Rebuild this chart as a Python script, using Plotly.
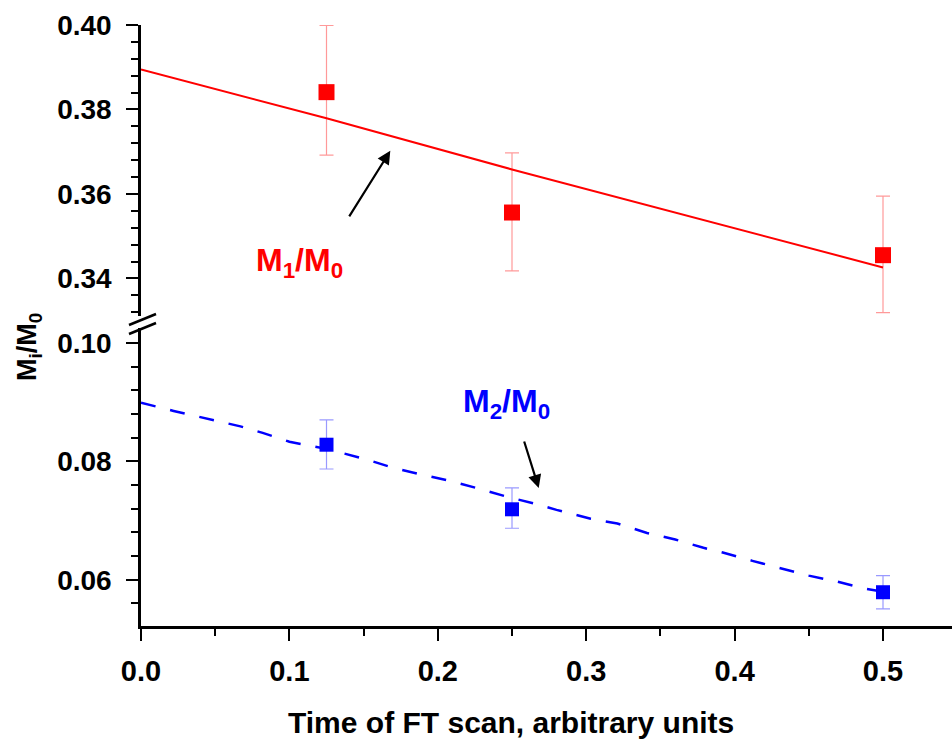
import plotly.graph_objects as go

# ---------------- data ----------------
# M1/M0 measurements (top panel)
m1_x = [0.125, 0.25, 0.5]
m1_y = [0.3841, 0.3556, 0.3455]
m1_err_plus = [0.0158, 0.0141, 0.0140]
m1_err_minus = [0.0149, 0.0138, 0.0136]

# M1/M0 model curve
m1_line_x = [0.0, 0.125, 0.25, 0.375, 0.5]
m1_line_y = [0.3895, 0.3779, 0.3658, 0.3542, 0.3426]

# M2/M0 measurements (bottom panel)
m2_x = [0.125, 0.25, 0.5]
m2_y = [0.0828, 0.0719, 0.0579]
m2_err_plus = [0.0042, 0.0036, 0.0028]
m2_err_minus = [0.0041, 0.0032, 0.0028]

# M2/M0 model curve
m2_line_x = [0.0, 0.022, 0.067, 0.082, 0.100, 0.125, 0.152, 0.170, 0.190, 0.208,
             0.226, 0.247, 0.266, 0.280, 0.303, 0.321, 0.341, 0.360, 0.379, 0.392,
             0.412, 0.431, 0.450, 0.469, 0.488, 0.5]
m2_line_y = [0.0899, 0.0885, 0.0859, 0.0848, 0.0833, 0.0821, 0.0803, 0.0789, 0.0777, 0.0767,
             0.0755, 0.0740, 0.0728, 0.0718, 0.0703, 0.0695, 0.0679, 0.0668, 0.0654, 0.0646,
             0.0632, 0.0620, 0.0607, 0.0597, 0.0585, 0.0580]

x_ticks = [0.0, 0.1, 0.2, 0.3, 0.4, 0.5]
y_top_ticks = [0.34, 0.36, 0.38, 0.40]
y_bot_ticks = [0.06, 0.08, 0.10]

RED = "#ff0000"
BLUE = "#0000ff"
FONT = "Liberation Sans, Arial, sans-serif"

W, H = 952, 745
ML, MR, MT, MB = 141, 0, 25, 119
PW, PH = W - ML - MR, H - MT - MB

def px2paper_x(px):
    return (px - ML) / PW

def px2paper_y(py):
    return (H - MB - py) / PH

fig = go.Figure()

fig.add_trace(go.Scatter(
    x=m1_line_x, y=m1_line_y, mode="lines", xaxis="x", yaxis="y",
    line=dict(color=RED, width=2), showlegend=False, hoverinfo="skip"))
fig.add_trace(go.Scatter(
    x=m1_x, y=m1_y, mode="markers", xaxis="x", yaxis="y",
    marker=dict(symbol="square", size=16, color=RED),
    error_y=dict(type="data", symmetric=False, array=m1_err_plus, arrayminus=m1_err_minus,
                 color="rgba(255,0,0,0.4)", thickness=1.2, width=7),
    showlegend=False))

fig.add_trace(go.Scatter(
    x=m2_line_x, y=m2_line_y, mode="lines", xaxis="x", yaxis="y2",
    line=dict(color=BLUE, width=2.5, dash="15px,15px"), showlegend=False, hoverinfo="skip"))
fig.add_trace(go.Scatter(
    x=m2_x, y=m2_y, mode="markers", xaxis="x", yaxis="y2",
    marker=dict(symbol="square", size=14, color=BLUE),
    error_y=dict(type="data", symmetric=False, array=m2_err_plus, arrayminus=m2_err_minus,
                 color="rgba(0,0,255,0.4)", thickness=1.2, width=7),
    showlegend=False))

axis_common = dict(
    showline=True, linecolor="black", linewidth=2.5, mirror=False,
    ticks="outside", ticklen=12, tickwidth=2, tickcolor="black",
    showgrid=False, zeroline=False,
)

x_top = 0.5 + (W - ML - MR - (883 - ML)) / ((883 - ML) / 0.5)

fig.update_layout(
    width=W, height=H,
    margin=dict(l=ML, r=MR, t=MT, b=MB),
    paper_bgcolor="white", plot_bgcolor="white",
    font=dict(family=FONT, color="black"),
    xaxis=dict(
        **axis_common, anchor="y2", range=[0, x_top],
        tickvals=x_ticks, tickformat=".1f",
        tickfont=dict(family=FONT, size=29, weight="bold"),
        ticklabelstandoff=5,
        minor=dict(dtick=0.05, tick0=0, ticks="outside", ticklen=7, tickwidth=2, tickcolor="black"),
    ),
    yaxis=dict(
        **axis_common, anchor="x", domain=[px2paper_y(316), 1.0], range=[0.3311, 0.4],
        tickvals=y_top_ticks, tickformat=".2f",
        tickfont=dict(family=FONT, size=28, weight="bold"),
        ticklabelstandoff=9,
        minor=dict(dtick=0.004, tick0=0, ticks="outside", ticklen=7, tickwidth=2, tickcolor="black"),
    ),
    yaxis2=dict(
        **axis_common, anchor="x", domain=[0, px2paper_y(328)], range=[0.0522, 0.1025],
        tickvals=y_bot_ticks, tickformat=".2f",
        tickfont=dict(family=FONT, size=28, weight="bold"),
        ticklabelstandoff=9,
        minor=dict(dtick=0.004, tick0=0, ticks="outside", ticklen=7, tickwidth=2, tickcolor="black"),
    ),
)

# axis break marks
for (x0, y0, x1, y1) in [(129, 325, 156, 314), (129, 334, 156, 323)]:
    fig.add_shape(type="line", xref="paper", yref="paper",
                  x0=px2paper_x(x0), y0=px2paper_y(y0), x1=px2paper_x(x1), y1=px2paper_y(y1),
                  line=dict(color="black", width=2.5))

annotations = [
    # axis titles
    dict(text="<b>Time of FT scan, arbitrary units</b>", xref="paper", yref="paper",
         x=px2paper_x(511), y=px2paper_y(722), xanchor="center", yanchor="middle",
         showarrow=False, font=dict(family=FONT, size=30, color="black")),
    dict(text="<b>M<sub>i</sub>/M<sub>0</sub></b>", xref="paper", yref="paper",
         x=px2paper_x(29), y=px2paper_y(347), xanchor="center", yanchor="middle",
         textangle=-90, showarrow=False, font=dict(family=FONT, size=27, color="black")),
    # series labels
    dict(text="<b>M<sub>1</sub>/M<sub>0</sub></b>", xref="x", yref="y",
         x=0.107, y=0.3437, xanchor="center", yanchor="middle",
         showarrow=False, font=dict(family=FONT, size=32, color=RED)),
    dict(text="<b>M<sub>2</sub>/M<sub>0</sub></b>", xref="x", yref="y2",
         x=0.246, y=0.0898, xanchor="center", yanchor="middle",
         showarrow=False, font=dict(family=FONT, size=32, color=BLUE)),
    # arrows
    dict(text="", xref="x", yref="y", x=0.168, y=0.3702, ax=-42, ay=67,
         showarrow=True, arrowhead=2, arrowsize=1.2, arrowwidth=2.2, arrowcolor="black"),
    dict(text="", xref="x", yref="y2", x=0.268, y=0.0755, ax=-15, ay=-48,
         showarrow=True, arrowhead=2, arrowsize=1.2, arrowwidth=2.2, arrowcolor="black"),
]
fig.update_layout(annotations=annotations)

fig.write_html(
    "out.html",
    config={"displayModeBar": False},
    post_script="document.body.style.margin='0';document.body.style.overflow='hidden';",
)
